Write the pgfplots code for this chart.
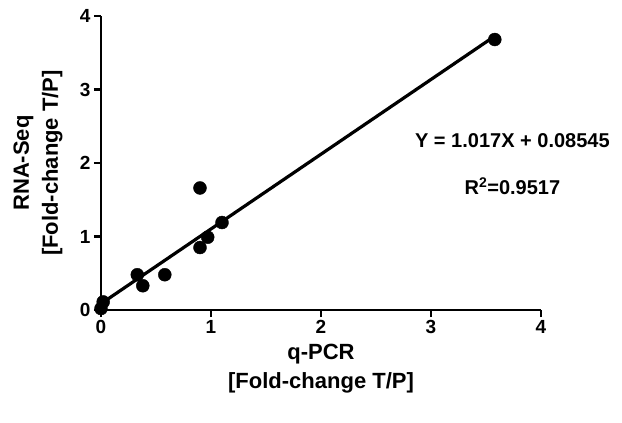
\documentclass[border=0pt]{standalone}
\usepackage{pgfplots}
\pgfplotsset{compat=1.18}
\usepackage{fontspec}
\setmainfont{Liberation Sans}
\begin{document}
\begin{tikzpicture}
\begin{axis}[
  name=ax, at={(0,0)}, anchor=south west,
  scale only axis, width=440bp, height=294bp,
  xmin=0, xmax=4, ymin=0, ymax=4,
  axis lines*=left, axis line style={line width=2.8bp},
  xtick={0,1,2,3,4}, ytick={0,1,2,3,4},
  tick style={line width=2.4bp, black},
  tick align=outside, major tick length=7bp,
  tick label style={font=\fontsize{19bp}{21bp}\selectfont\bfseries},
  /pgf/number format/assume math mode=true,
  clip=false,
  xlabel={q-PCR\\{}{[Fold-change T/P]}},
  ylabel={RNA-Seq\\{}{[Fold-change T/P]}},
  label style={font=\fontsize{22bp}{29bp}\selectfont\bfseries, align=center},
  xlabel style={at={(axis description cs:0.5,-0.20)}, anchor=center},
  ylabel style={at={(axis description cs:-0.143,0.5)}, anchor=center},
]
\addplot[only marks, mark=*, mark size=6.5bp, black] coordinates {
(0.0,0.02) (0.02,0.11) (0.33,0.48) (0.38,0.33) (0.58,0.48)
(0.90,1.66) (0.90,0.85) (0.97,0.99) (1.10,1.19) (3.58,3.68)
};
\addplot[line width=3.2bp, black] coordinates {(0,0.08545) (3.6,3.74665)};
\node[font=\fontsize{20bp}{23bp}\selectfont\bfseries] at (axis cs:3.74,2.30) {Y = 1.017X + 0.08545};
\node[font=\fontsize{20bp}{23bp}\selectfont\bfseries] at (axis cs:3.74,1.687) {R\textsuperscript{2}=0.9517};
\end{axis}
\path[use as bounding box] (-101bp,-113bp) rectangle (521bp,310bp);
\end{tikzpicture}
\end{document}
